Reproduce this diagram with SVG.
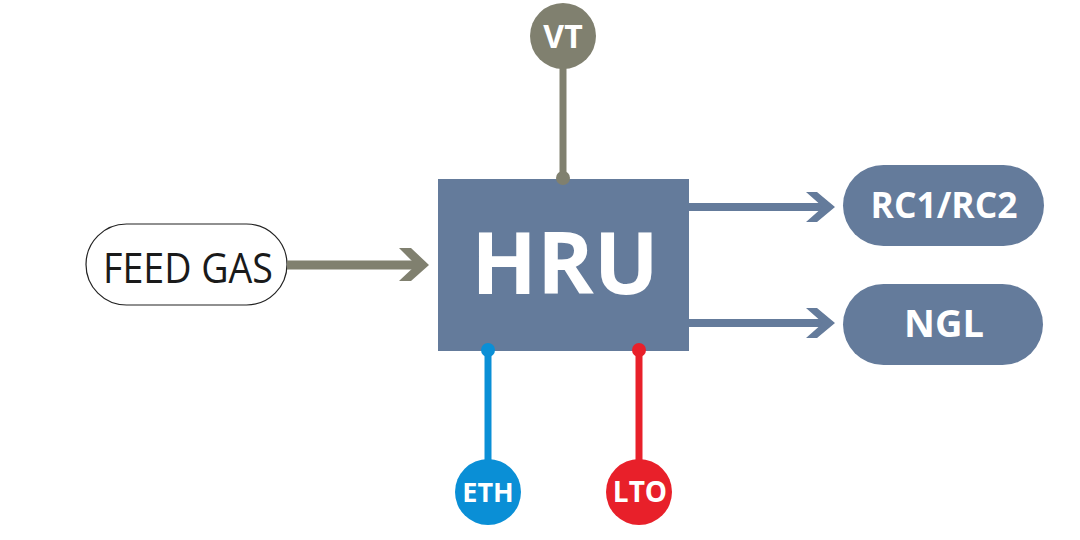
<svg xmlns="http://www.w3.org/2000/svg" width="1080" height="540" viewBox="0 0 1080 540">
<style>
.lbl{font-family:"Open Sans","Liberation Sans",sans-serif;font-weight:bold;fill:#fff;text-anchor:middle}
.gray{fill:#80806F}
.blue{fill:#647B9B}
</style>
<rect width="1080" height="540" fill="#fff"/>
<g id="hru">
<rect x="438" y="179" width="251" height="172" class="blue"/>
<text x="565" y="294" class="lbl" font-size="86">HRU</text>
</g>
<g id="vt">
<circle cx="563" cy="36" r="33" class="gray"/>
<text x="563" y="48" class="lbl" font-size="32">VT</text>
</g>
<g id="eth">
<circle cx="488" cy="492" r="33" fill="#0A8FD6"/>
<text x="488" y="502" class="lbl" font-size="27">ETH</text>
</g>
<g id="lto">
<circle cx="639" cy="492" r="33" fill="#E8202A"/>
<text x="640" y="502" class="lbl" font-size="28">LTO</text>
</g>
<g id="feed">
<rect x="86" y="224" width="201" height="81" rx="40.5" fill="#fff" stroke="#222" stroke-width="1.2"/>
<text x="188" y="283" font-family="'Open Sans','Liberation Sans',sans-serif" font-size="42" fill="#1a1a1a" text-anchor="middle" textLength="170" lengthAdjust="spacingAndGlyphs">FEED GAS</text>
</g>
<g id="rc">
<rect x="843" y="165" width="201" height="81" rx="40.5" class="blue"/>
<text x="944" y="218" class="lbl" font-size="36" textLength="147" lengthAdjust="spacingAndGlyphs">RC1/RC2</text>
</g>
<g id="ngl">
<rect x="843" y="284" width="200" height="81" rx="40.5" class="blue"/>
<text x="944" y="337" class="lbl" font-size="38">NGL</text>
</g>
<g id="connectors">
<line x1="563" y1="66" x2="563" y2="178" stroke="#80806F" stroke-width="7"/>
<circle cx="563" cy="178" r="7" class="gray"/>
<line x1="488" y1="350" x2="488" y2="462" stroke="#0A8FD6" stroke-width="7"/>
<circle cx="488" cy="350" r="7" fill="#0A8FD6"/>
<line x1="639" y1="350" x2="639" y2="462" stroke="#E8202A" stroke-width="7"/>
<circle cx="639" cy="350" r="7" fill="#E8202A"/>
<line x1="287" y1="265" x2="420" y2="265" stroke="#80806F" stroke-width="9"/>
<polygon points="399,248 411,248 429,265 411,281 399,281 416,265" class="gray"/>
<line x1="689" y1="207" x2="826" y2="207" stroke="#647B9B" stroke-width="8"/>
<polygon points="806,192 817,192 835,207 817,222 806,222 823,207" class="blue"/>
<line x1="689" y1="323" x2="826" y2="323" stroke="#647B9B" stroke-width="8"/>
<polygon points="806,308 817,308 835,323 817,338 806,338 823,323" class="blue"/>
</g>
</svg>
